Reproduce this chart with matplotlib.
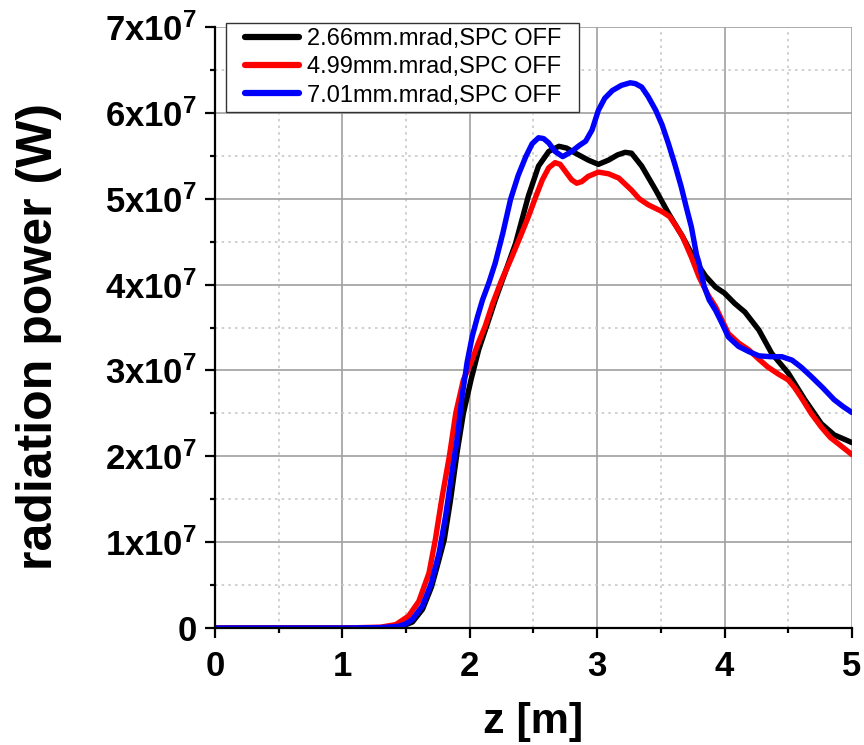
import numpy as np
import matplotlib
matplotlib.use("Agg")
import matplotlib.pyplot as plt
from matplotlib.lines import Line2D
from matplotlib.legend_handler import HandlerLine2D
from matplotlib.ticker import MultipleLocator, FixedLocator, FixedFormatter

plt.rcParams['font.family'] = ['Liberation Sans', 'DejaVu Sans']
plt.rcParams['mathtext.fontset'] = 'custom'
plt.rcParams['mathtext.rm'] = 'Liberation Sans:bold'
plt.rcParams['mathtext.it'] = 'Liberation Sans:bold'
plt.rcParams['mathtext.bf'] = 'Liberation Sans:bold'

# radiation power in units of 1e7 W
z_black = [0, 0.5, 1.0, 1.3, 1.45, 1.55, 1.63, 1.70, 1.75, 1.80, 1.85, 1.90, 1.95, 2.01,
           2.07, 2.14, 2.20, 2.28, 2.36, 2.46, 2.54, 2.62, 2.70, 2.76, 2.83, 2.93, 3.01,
           3.09, 3.16, 3.22, 3.27, 3.35, 3.46, 3.56, 3.67, 3.77, 3.85, 3.93, 4.00, 4.08,
           4.16, 4.27, 4.37, 4.50, 4.63, 4.76, 4.86, 5.0]
p_black = [0, 0, 0, 0.003, 0.01, 0.07, 0.22, 0.48, 0.75, 1.03, 1.50, 2.04, 2.50, 2.89,
           3.24, 3.55, 3.82, 4.15, 4.48, 5.03, 5.38, 5.55, 5.61, 5.59, 5.53, 5.45, 5.40,
           5.45, 5.51, 5.54, 5.53, 5.38, 5.10, 4.83, 4.56, 4.28, 4.10, 3.97, 3.90, 3.78,
           3.68, 3.47, 3.20, 2.97, 2.66, 2.38, 2.25, 2.16]

z_red = [0, 0.5, 1.0, 1.3, 1.42, 1.52, 1.60, 1.68, 1.73, 1.78, 1.84, 1.89, 1.95, 2.01,
         2.07, 2.12, 2.18, 2.25, 2.33, 2.40, 2.46, 2.52, 2.57, 2.62, 2.67, 2.71, 2.75,
         2.80, 2.84, 2.88, 2.93, 3.01, 3.09, 3.17, 3.27, 3.33, 3.40, 3.51, 3.57, 3.62,
         3.67, 3.74, 3.80, 3.87, 3.93, 4.03, 4.11, 4.19, 4.27, 4.34, 4.42, 4.50, 4.55,
         4.60, 4.68, 4.76, 4.83, 4.89, 5.0]
p_red = [0, 0, 0, 0.01, 0.04, 0.14, 0.31, 0.64, 1.03, 1.50, 2.00, 2.50, 2.89, 3.09,
         3.33, 3.51, 3.78, 4.05, 4.32, 4.57, 4.79, 5.03, 5.22, 5.36, 5.42, 5.40, 5.32,
         5.22, 5.18, 5.20, 5.26, 5.31, 5.29, 5.24, 5.10, 5.00, 4.93, 4.85, 4.79, 4.68,
         4.56, 4.32, 4.09, 3.88, 3.74, 3.43, 3.32, 3.24, 3.13, 3.04, 2.96, 2.89, 2.80,
         2.69, 2.50, 2.34, 2.22, 2.15, 2.02]

z_blue = [0, 0.5, 1.0, 1.3, 1.44, 1.50, 1.55, 1.63, 1.70, 1.76, 1.81, 1.86, 1.90, 1.94,
          1.98, 2.02, 2.06, 2.10, 2.15, 2.20, 2.26, 2.32, 2.38, 2.44, 2.49, 2.54, 2.58,
          2.62, 2.67, 2.73, 2.80, 2.86, 2.91, 2.96, 3.01, 3.06, 3.12, 3.19, 3.26, 3.30,
          3.35, 3.40, 3.46, 3.51, 3.56, 3.61, 3.66, 3.70, 3.74, 3.78, 3.80, 3.84, 3.88,
          3.93, 3.98, 4.03, 4.11, 4.19, 4.27, 4.36, 4.45, 4.53, 4.60, 4.68, 4.77, 4.86,
          4.93, 5.0]
p_blue = [0, 0, 0, 0.005, 0.02, 0.05, 0.10, 0.26, 0.53, 0.88, 1.30, 1.81, 2.19, 2.70,
          3.10, 3.40, 3.62, 3.82, 4.02, 4.25, 4.60, 4.99, 5.27, 5.49, 5.64, 5.71, 5.70,
          5.65, 5.55, 5.49, 5.55, 5.62, 5.67, 5.80, 6.03, 6.17, 6.26, 6.32, 6.35, 6.34,
          6.30, 6.19, 6.03, 5.86, 5.64, 5.40, 5.14, 4.90, 4.67, 4.35, 4.25, 3.98, 3.82,
          3.70, 3.55, 3.39, 3.28, 3.22, 3.17, 3.16, 3.16, 3.12, 3.04, 2.93, 2.80, 2.66,
          2.58, 2.51]

labels = ["2.66mm.mrad,SPC OFF", "4.99mm.mrad,SPC OFF", "7.01mm.mrad,SPC OFF"]
colors = ["black", "#ff0000", "#0000ff"]

y_ticks = [0, 1, 2, 3, 4, 5, 6, 7]
y_ticklabels = ["0"] + [r"$\mathbf{%dx10^{7}}$" % v for v in y_ticks[1:]]

fig = plt.figure(figsize=(8.64, 7.45), dpi=100)
ax = fig.add_axes([0.2488, 0.157, 0.986 - 0.2488, 0.9638 - 0.157])

series = [(z_black, p_black), (z_red, p_red), (z_blue, p_blue)]
for (z, p), lab, c in zip(series, labels, colors):
    ax.plot(z, np.array(p) * 1e7, color=c, lw=3.9, label=lab,
            solid_capstyle='round', solid_joinstyle='round')

ax.set_xlim(0, 5)
ax.set_ylim(0, 7e7)
ax.xaxis.set_major_locator(MultipleLocator(1))
ax.xaxis.set_minor_locator(MultipleLocator(0.5))
ax.yaxis.set_major_locator(FixedLocator([v * 1e7 for v in y_ticks]))
ax.yaxis.set_major_formatter(FixedFormatter(y_ticklabels))
ax.yaxis.set_minor_locator(MultipleLocator(0.5e7))

ax.grid(which='major', color='#a0a0a0', lw=1.2, ls='-')
ax.grid(which='minor', color='#c8c8c8', lw=1.2, ls=(0, (1.5, 2.5)))
ax.set_axisbelow(True)

for s in ['top', 'right']:
    ax.spines[s].set_visible(False)
for s in ['left', 'bottom']:
    ax.spines[s].set_linewidth(1.6)

ax.tick_params(which='major', direction='out', length=7, width=1.6, labelsize=25, pad=6)
ax.tick_params(axis='x', which='major', pad=9)
ax.tick_params(which='minor', direction='out', length=3.5, width=1.6)
for t in ax.get_xticklabels() + ax.get_yticklabels():
    t.set_fontweight('bold')

ax.set_xlabel("z [m]", fontsize=31, fontweight='bold')
ax.set_ylabel("radiation power (W)", fontsize=36, fontweight='bold')
ax.xaxis.set_label_coords(0.5, -0.123)
ax.yaxis.set_label_coords(-0.24, 0.485)

leg = ax.legend(loc='upper left', bbox_to_anchor=(0.017, 1.007), borderaxespad=0,
                fontsize=17, handlelength=2.9, handletextpad=0.3, labelspacing=0.27,
                borderpad=0.22, fancybox=False, framealpha=1, edgecolor='#333333',
                handler_map={Line2D: HandlerLine2D(xpad=0.6)})
leg.get_frame().set_linewidth(1.0)
for line in leg.get_lines():
    line.set_linewidth(4.5)
for t in leg.get_texts():
    t.set_text(t.get_text() + "\u00a0\u00a0")

fig.savefig("out.png", dpi=100)
